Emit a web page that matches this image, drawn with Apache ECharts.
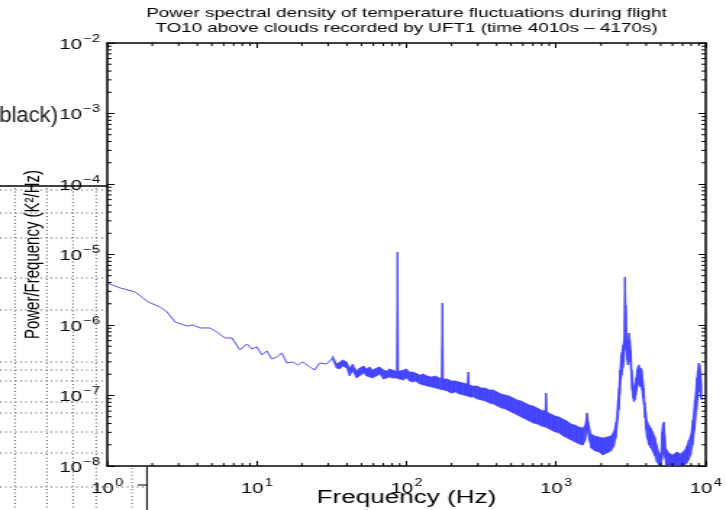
<!DOCTYPE html>
<html>
<head>
<meta charset="utf-8">
<title>PSD UFT1</title>
<script src="https://cdn.jsdelivr.net/npm/echarts@6.0.0/dist/echarts.min.js"></script>
<style>
html,body{margin:0;padding:0;background:#fff;}
#wrap{width:726px;height:510px;overflow:hidden;position:relative;background:#fff;}
#chart{width:501px;height:510px;transform:scaleX(1.4491);transform-origin:0 0;}
</style>
</head>
<body>
<div id="wrap"><div id="chart"></div></div>
<script>
// ---------- text ----------
const titleLines = [
  'Power spectral density of temperature fluctuations during flight',
  'TO10 above clouds recorded by UFT1 (time 4010s \u2013 4170s)'
];
const xName = 'Frequency (Hz)';
const yName = 'Power/Frequency (K\u00B2/Hz)';

// ---------- axes ----------
const xRange = [1, 10000];
const yRange = [1e-8, 1e-2];
const xMinorTicks = [2,3,4,5,6,7,8,9,20,30,40,50,60,70,80,90,200,300,400,500,600,700,800,900,2000,3000,4000,5000,6000,7000,8000,9000];
const yMinorTicks = [2e-8,3e-8,4e-8,5e-8,6e-8,7e-8,8e-8,9e-8,
  2e-7,3e-7,4e-7,5e-7,6e-7,7e-7,8e-7,9e-7,
  2e-6,3e-6,4e-6,5e-6,6e-6,7e-6,8e-6,9e-6,
  2e-5,3e-5,4e-5,5e-5,6e-5,7e-5,8e-5,9e-5,
  2e-4,3e-4,4e-4,5e-4,6e-4,7e-4,8e-4,9e-4,
  2e-3,3e-3,4e-3,5e-3,6e-3,7e-3,8e-3,9e-3];

// ---------- data: low-frequency part (single trace) ----------
const lineFreq = [1, 1.221, 1.537, 1.877, 2.256, 2.512, 2.840, 3.415, 3.745, 4.169, 4.862, 5.412, 6.119, 6.813, 7.703, 8.577, 9.261, 10, 10.80, 11.66, 12.59, 13.59, 14.68, 15.85, 17.38, 18.77, 20.26, 22.56, 24.36, 26.30, 29.29, 32.11];
const linePsd = [3.94e-6, 3.35e-6, 2.94e-6, 2.12e-6, 1.80e-6, 1.53e-6, 1.10e-6, 9.68e-7, 1.0e-6, 9.08e-7, 9.08e-7, 7.96e-7, 6.55e-7, 6.55e-7, 4.43e-7, 5.38e-7, 4.57e-7, 4.88e-7, 3.76e-7, 4.28e-7, 3.30e-7, 3.52e-7, 4.01e-7, 2.89e-7, 2.99e-7, 2.71e-7, 2.99e-7, 2.54e-7, 2.30e-7, 2.89e-7, 2.80e-7, 3.40e-7];

// ---------- data: noisy part (upper / lower envelope of the trace) ----------
const bandFreq = [32.1, 34.15, 35.8, 37.44, 39.8, 41.7, 43.7, 46.4, 48.6, 51.7, 54.1, 56.7, 59.3, 63.1, 66.1, 70.3, 73.6, 77.0, 80.7, 84.5, 85.8, 87.1, 88.5, 89.8, 95.5, 100, 104.7, 109.6, 114.8, 122.1, 129.8, 138.0, 146.8, 156.1, 166.0, 171.1, 173.8, 176.5, 187.7, 199.5, 212.2, 225.6, 239.9, 255.0, 259.1, 263.0, 279.8, 297.3, 316.2, 336.2, 357.6, 380.2, 404.4, 429.9, 457.1, 486.2, 516.9, 549.5, 584.3, 621.3, 660.7, 702.5, 746.9, 794.3, 844.8, 857.7, 871.0, 926.1, 984.8, 1047, 1113, 1184, 1259, 1338, 1423, 1514, 1561, 1609, 1660, 1711, 1820, 1935, 2057, 2188, 2326, 2436, 2512, 2590, 2630, 2671, 2713, 2754, 2797, 2840, 2884, 2929, 2974, 3020, 3068, 3115, 3162, 3211, 3261, 3311, 3362, 3415, 3467, 3522, 3576, 3631, 3687, 3745, 3802, 3862, 3920, 3981, 4043, 4169, 4299, 4433, 4571, 4714, 4862, 5012, 5090, 5168, 5248, 5330, 5412, 5667, 6026, 6408, 6813, 7244, 7470, 7703, 7943, 8190, 8446, 8710, 8845, 8982, 9120, 9261, 9404];
const bandHigh = [3.63e-7, 2.80e-7, 2.99e-7, 3.19e-7, 2.99e-7, 2.45e-7, 2.80e-7, 2.23e-7, 2.45e-7, 2.62e-7, 2.38e-7, 2.54e-7, 2.30e-7, 2.45e-7, 2.54e-7, 2.30e-7, 2.23e-7, 2.38e-7, 2.30e-7, 2.23e-7, 2.15e-7, 1.085e-5, 2.15e-7, 2.23e-7, 2.30e-7, 2.38e-7, 2.15e-7, 2.15e-7, 2.09e-7, 1.95e-7, 2.02e-7, 1.89e-7, 1.83e-7, 1.89e-7, 1.77e-7, 1.77e-7, 2.05e-6, 1.71e-7, 1.71e-7, 1.61e-7, 1.61e-7, 1.55e-7, 1.50e-7, 1.46e-7, 2.15e-7, 1.41e-7, 1.36e-7, 1.36e-7, 1.28e-7, 1.28e-7, 1.20e-7, 1.20e-7, 1.12e-7, 1.05e-7, 1.02e-7, 9.84e-8, 9.22e-8, 8.63e-8, 8.36e-8, 7.83e-8, 7.33e-8, 7.10e-8, 6.65e-8, 6.23e-8, 6.02e-8, 1.08e-7, 5.83e-8, 5.46e-8, 5.12e-8, 4.95e-8, 4.64e-8, 4.35e-8, 3.94e-8, 3.81e-8, 3.57e-8, 3.46e-8, 3.81e-8, 5.65e-8, 3.81e-8, 2.85e-8, 2.66e-8, 2.58e-8, 2.50e-8, 2.58e-8, 2.66e-8, 3.14e-8, 4.21e-8, 8.63e-8, 1.28e-7, 2.30e-7, 3.75e-7, 4.14e-7, 5.20e-7, 6.13e-7, 4.80e-6, 1.92e-6, 6.13e-7, 5.74e-7, 7.70e-7, 6.13e-7, 4.42e-7, 2.30e-7, 1.55e-7, 1.28e-7, 1.41e-7, 1.77e-7, 2.30e-7, 2.54e-7, 2.71e-7, 2.30e-7, 2.45e-7, 2.30e-7, 1.66e-7, 1.28e-7, 8.09e-8, 5.83e-8, 4.49e-8, 3.81e-8, 3.46e-8, 3.04e-8, 2.58e-8, 1.99e-8, 1.58e-8, 1.43e-8, 3.04e-8, 3.94e-8, 4.21e-8, 2.75e-8, 1.80e-8, 1.53e-8, 1.43e-8, 1.58e-8, 1.48e-8, 1.69e-8, 1.92e-8, 2.34e-8, 2.75e-8, 4.49e-8, 8.63e-8, 1.77e-7, 2.30e-7, 2.89e-7, 2.71e-7, 2.15e-7, 1.41e-7];
const bandLow = [3.19e-7, 2.45e-7, 2.38e-7, 2.62e-7, 2.45e-7, 1.89e-7, 2.23e-7, 1.77e-7, 1.89e-7, 2.09e-7, 1.89e-7, 1.83e-7, 1.77e-7, 1.89e-7, 2.02e-7, 1.71e-7, 1.77e-7, 1.83e-7, 1.77e-7, 1.77e-7, 1.77e-7, 1.77e-7, 1.71e-7, 1.71e-7, 1.66e-7, 1.77e-7, 1.61e-7, 1.55e-7, 1.61e-7, 1.46e-7, 1.41e-7, 1.36e-7, 1.32e-7, 1.28e-7, 1.24e-7, 1.20e-7, 1.24e-7, 1.20e-7, 1.16e-7, 1.08e-7, 1.12e-7, 1.05e-7, 1.02e-7, 9.84e-8, 9.84e-8, 9.52e-8, 9.52e-8, 8.92e-8, 8.63e-8, 8.36e-8, 7.83e-8, 7.57e-8, 7.10e-8, 6.65e-8, 6.43e-8, 6.02e-8, 5.65e-8, 5.29e-8, 4.95e-8, 4.64e-8, 4.35e-8, 4.07e-8, 3.94e-8, 3.69e-8, 3.57e-8, 3.57e-8, 3.46e-8, 3.24e-8, 3.04e-8, 2.94e-8, 2.66e-8, 2.50e-8, 2.34e-8, 2.19e-8, 2.05e-8, 1.99e-8, 2.26e-8, 3.24e-8, 2.34e-8, 1.80e-8, 1.63e-8, 1.58e-8, 1.43e-8, 1.53e-8, 1.63e-8, 1.92e-8, 2.50e-8, 4.49e-8, 6.23e-8, 1.02e-7, 1.66e-7, 1.95e-7, 2.45e-7, 2.99e-7, 4.42e-7, 5.20e-7, 3.19e-7, 2.71e-7, 3.75e-7, 2.99e-7, 2.30e-7, 1.20e-7, 9.22e-8, 8.09e-8, 8.63e-8, 1.02e-7, 1.20e-7, 1.41e-7, 1.50e-7, 1.32e-7, 1.41e-7, 1.20e-7, 9.22e-8, 7.33e-8, 4.79e-8, 3.24e-8, 2.50e-8, 1.99e-8, 1.80e-8, 1.58e-8, 1.39e-8, 1.14e-8, 1.03e-8, 1.03e-8, 1.22e-8, 1.43e-8, 1.69e-8, 1.30e-8, 1.03e-8, 1.03e-8, 1.03e-8, 1.03e-8, 1.03e-8, 1.03e-8, 1.10e-8, 1.22e-8, 1.43e-8, 1.99e-8, 3.24e-8, 6.23e-8, 8.63e-8, 1.20e-7, 1.12e-7, 9.22e-8, 8.63e-8];

// ---------- presentation ----------
const FONT = 'Liberation Sans';
const lineColor = '#5050ff';
const bandColor = '#4343ff';

function expLabel(v) {
  const e = Math.round(Math.log10(v));
  return '{b|10}{s|' + String(e).replace('-', '\u2212') + '}';
}
const richPow = {
  b: {fontFamily: FONT, fontSize: 14, color: '#000', padding: [4, 0, 0, 0]},
  s: {fontFamily: FONT, fontSize: 10, color: '#000', verticalAlign: 'top', padding: [0, 0, 0, 1]}
};
const axisLineStyle = {color: '#000', width: 1.5};
const majorTick = {show: true, inside: true, length: 5, lineStyle: {color: '#000', width: 1}};

// decorative remnants visible at the left edge of the reference picture
const leftRows = [190, 213, 238, 278, 310, 362, 370, 381, 402, 413, 432, 453];
const leftCols = [10.4, 32.4, 50.4, 66.3];
const dotted = {stroke: '#555', lineWidth: 1, lineDash: [1, 2.5]};
const graphics = [];
leftRows.forEach(y => graphics.push({type: 'line', z: -10, silent: true, shape: {x1: 0, y1: y, x2: 73, y2: y}, style: dotted}));
graphics.push({type: 'line', z: -10, silent: true, shape: {x1: 0, y1: 487, x2: 101, y2: 487}, style: dotted});
leftCols.forEach(x => graphics.push({type: 'line', z: -10, silent: true, shape: {x1: x, y1: 188, x2: x, y2: 510}, style: dotted}));
graphics.push({type: 'line', z: -10, silent: true, shape: {x1: 91.1, y1: 468, x2: 91.1, y2: 510}, style: dotted});
graphics.push({type: 'line', z: -5, silent: true, shape: {x1: 0, y1: 186, x2: 74, y2: 186}, style: {stroke: '#000', lineWidth: 1.5}});
graphics.push({type: 'line', z: -5, silent: true, shape: {x1: 101.4, y1: 467, x2: 101.4, y2: 510}, style: {stroke: '#000', lineWidth: 1}});
graphics.push({type: 'line', z: -5, silent: true, shape: {x1: 95, y1: 485, x2: 101.4, y2: 485}, style: {stroke: '#000', lineWidth: 1}});
graphics.push({type: 'text', z: -5, silent: true, x: -0.5, y: 116, scaleX: 0.69,
  style: {text: 'black)', font: '22px "Liberation Sans"', fill: '#1a1a1a', verticalAlign: 'middle'}});

const bandData = bandFreq.slice(0, -1).map((f, i) => [f, bandHigh[i], bandLow[i], bandFreq[i + 1], bandHigh[i + 1], bandLow[i + 1]]);

const chart = echarts.init(document.getElementById('chart'), null, {renderer: 'canvas'});
chart.setOption({
  animation: false,
  backgroundColor: '#fff',
  textStyle: {fontFamily: FONT},
  title: {
    text: titleLines.join('\n'),
    left: 280.5, top: 6, padding: 0, textAlign: 'center',
    textStyle: {fontFamily: FONT, fontSize: 13, fontWeight: 'normal', color: '#000', lineHeight: 15}
  },
  graphic: graphics,
  grid: {left: 74, right: 14, top: 43, bottom: 44, containLabel: false, outerBoundsMode: 'none'},
  xAxis: [
    {type: 'log', logBase: 10, min: xRange[0], max: xRange[1], splitNumber: 4, position: 'bottom',
     name: xName, nameLocation: 'middle', nameGap: 23, nameMoveOverlap: false,
     nameTextStyle: {fontFamily: FONT, fontSize: 18, color: '#000'},
     axisLine: {show: true, onZero: false, lineStyle: axisLineStyle},
     axisTick: majorTick,
     axisLabel: {show: true, margin: 12, formatter: expLabel, rich: richPow, showMinLabel: true, showMaxLabel: true},
     splitLine: {show: false}, minorTick: {show: false}},
    {type: 'log', logBase: 10, min: xRange[0], max: xRange[1], splitNumber: 4, position: 'top',
     axisLine: {show: true, onZero: false, lineStyle: axisLineStyle},
     axisTick: majorTick, axisLabel: {show: false}, splitLine: {show: false}}
  ],
  yAxis: [
    {type: 'log', logBase: 10, min: yRange[0], max: yRange[1], splitNumber: 6, position: 'left',
     name: yName, nameLocation: 'middle', nameGap: 44, nameRotate: 90, nameMoveOverlap: false,
     nameTextStyle: {fontFamily: FONT, fontSize: 15, color: '#000'},
     axisLine: {show: true, onZero: false, lineStyle: axisLineStyle},
     axisTick: majorTick,
     axisLabel: {show: true, margin: 5, formatter: expLabel, rich: richPow, showMinLabel: true, showMaxLabel: true},
     splitLine: {show: false}, minorTick: {show: false}},
    {type: 'log', logBase: 10, min: yRange[0], max: yRange[1], splitNumber: 6, position: 'right',
     axisLine: {show: true, onZero: false, lineStyle: axisLineStyle},
     axisTick: majorTick, axisLabel: {show: false}, splitLine: {show: false}}
  ],
  series: [
    {
      name: 'PSD (noisy band)', type: 'custom', xAxisIndex: 0, yAxisIndex: 0, z: 2, silent: true,
      data: bandData, encode: {x: [0, 3], y: [1, 2, 4, 5]},
      renderItem: function (params, api) {
        const a1 = api.coord([api.value(0), api.value(1)]);
        const a2 = api.coord([api.value(3), api.value(4)]);
        const b2 = api.coord([api.value(3), api.value(5)]);
        const b1 = api.coord([api.value(0), api.value(2)]);
        return {type: 'polygon', shape: {points: [a1, a2, b2, b1]},
          style: {fill: bandColor, stroke: bandColor, lineWidth: 0.6}};
      }
    },
    {
      name: 'PSD', type: 'line', xAxisIndex: 0, yAxisIndex: 0, z: 2, silent: true,
      data: lineFreq.map((f, i) => [f, linePsd[i]]),
      showSymbol: false, symbol: 'none',
      lineStyle: {color: lineColor, width: 1}
    },
    {
      name: 'x minor ticks', type: 'custom', xAxisIndex: 0, yAxisIndex: 0, z: 5, silent: true,
      data: xMinorTicks.map(f => [f, yRange[0]]), encode: {x: 0, y: 1},
      renderItem: function (params, api) {
        const b = api.coord([api.value(0), yRange[0]]);
        const t = api.coord([api.value(0), yRange[1]]);
        return {type: 'group', children: [
          {type: 'line', shape: {x1: b[0], y1: b[1], x2: b[0], y2: b[1] - 3}, style: {stroke: '#000', lineWidth: 1}},
          {type: 'line', shape: {x1: t[0], y1: t[1], x2: t[0], y2: t[1] + 3}, style: {stroke: '#000', lineWidth: 1}}
        ]};
      }
    },
    {
      name: 'y minor ticks', type: 'custom', xAxisIndex: 0, yAxisIndex: 0, z: 5, silent: true,
      data: yMinorTicks.map(v => [xRange[0], v]), encode: {x: 0, y: 1},
      renderItem: function (params, api) {
        const l = api.coord([xRange[0], api.value(1)]);
        const r = api.coord([xRange[1], api.value(1)]);
        return {type: 'group', children: [
          {type: 'line', shape: {x1: l[0], y1: l[1], x2: l[0] + 3, y2: l[1]}, style: {stroke: '#000', lineWidth: 1}},
          {type: 'line', shape: {x1: r[0], y1: r[1], x2: r[0] - 3, y2: r[1]}, style: {stroke: '#000', lineWidth: 1}}
        ]};
      }
    }
  ]
});
</script>
</body>
</html>
